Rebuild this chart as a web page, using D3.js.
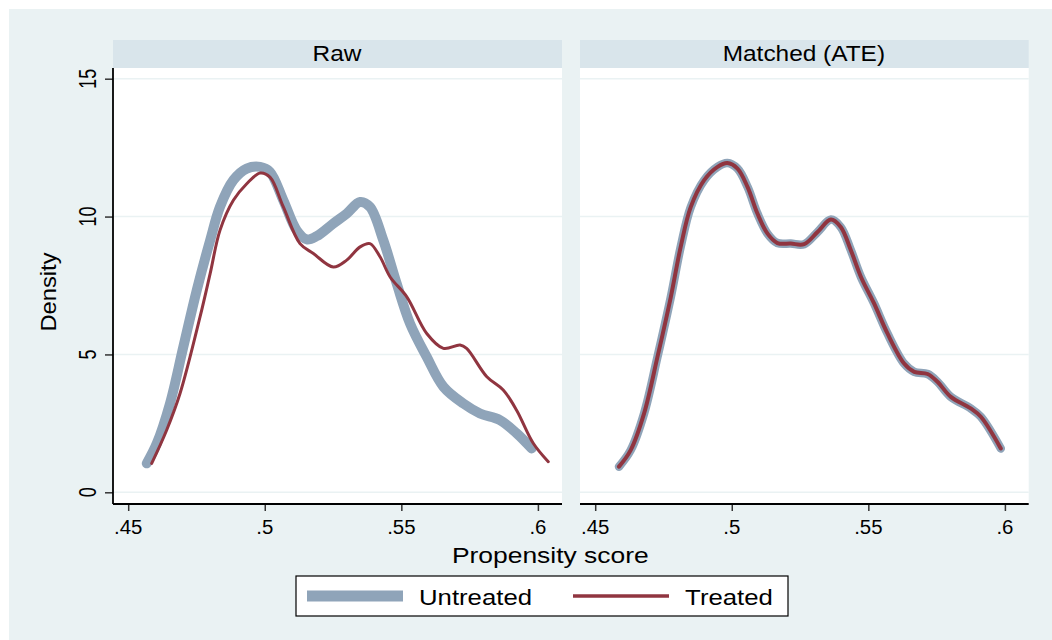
<!DOCTYPE html>
<html>
<head>
<meta charset="utf-8">
<script src="https://cdn.jsdelivr.net/npm/d3@7"></script>
<style>
  html, body { margin: 0; padding: 0; background: #fff; }
  svg { display: block; font-family: "Liberation Sans", Arial, sans-serif; }
</style>
</head>
<body>
<script>
// kernel density estimates: [propensity score, density]
const rawUntreated = [
  [0.4568, 1.05], [0.4605, 1.78], [0.4653, 3.22], [0.4702, 5.28], [0.4751, 7.33],
  [0.4800, 9.14], [0.4836, 10.35], [0.4885, 11.32], [0.4934, 11.74], [0.4983, 11.80],
  [0.5019, 11.62], [0.5068, 10.59], [0.5117, 9.50], [0.5154, 9.17], [0.5190, 9.29],
  [0.5251, 9.75], [0.5300, 10.11], [0.5349, 10.53], [0.5385, 10.35], [0.5434, 9.14],
  [0.5483, 7.57], [0.5532, 6.12], [0.5593, 4.91], [0.5654, 3.83], [0.5727, 3.22],
  [0.5788, 2.86], [0.5861, 2.62], [0.5922, 2.14], [0.5977, 1.59]
];
const rawTreated = [
  [0.4586, 1.05], [0.4641, 2.26], [0.4690, 3.59], [0.4763, 6.36], [0.4800, 7.93],
  [0.4836, 9.50], [0.4885, 10.59], [0.4934, 11.19], [0.4983, 11.58], [0.5019, 11.43],
  [0.5068, 10.35], [0.5129, 9.02], [0.5178, 8.66], [0.5251, 8.17], [0.5300, 8.42],
  [0.5349, 8.90], [0.5385, 9.02], [0.5422, 8.54], [0.5459, 7.81], [0.5520, 7.09],
  [0.5593, 5.76], [0.5654, 5.22], [0.5715, 5.34], [0.5739, 5.22], [0.5813, 4.19],
  [0.5873, 3.71], [0.5922, 2.98], [0.5983, 1.78], [0.6038, 1.11]
];
const matchedUntreated = [
  [0.4587, 0.93], [0.4630, 1.53], [0.4679, 2.86], [0.4728, 4.91], [0.4777, 7.09],
  [0.4813, 8.90], [0.4850, 10.35], [0.4899, 11.32], [0.4948, 11.80], [0.4984, 11.94],
  [0.5021, 11.74], [0.5058, 11.07], [0.5094, 10.11], [0.5131, 9.38], [0.5167, 9.04],
  [0.5216, 9.02], [0.5265, 9.00], [0.5314, 9.44], [0.5363, 9.89], [0.5399, 9.62],
  [0.5436, 8.78], [0.5473, 7.81], [0.5521, 6.85], [0.5570, 5.76], [0.5631, 4.67],
  [0.5668, 4.37], [0.5717, 4.29], [0.5753, 4.01], [0.5802, 3.46], [0.5875, 3.04],
  [0.5912, 2.74], [0.5985, 1.59]
];
// after matching the treated curve sits right on top of the untreated one
const matchedTreated = matchedUntreated.map(d => [d[0], d[1]]);

const panelTitles = ["Raw", "Matched (ATE)"];
const xTicks = [0.45, 0.5, 0.55, 0.6];
const yTicks = [0, 5, 10, 15];
const seriesNames = ["Untreated", "Treated"];

const W = 1052, H = 640;
const colUntreated = "#8fa4b9",
      colTreated = "#903540",
      colRegion = "#eaf2f3",
      colStrip = "#d9e5eb";

const svg = d3.select("body").append("svg")
  .attr("width", W).attr("height", H);

// graph region
svg.append("rect")
  .attr("x", 9).attr("y", 9).attr("width", W - 9).attr("height", H - 9)
  .attr("fill", colRegion);

// text helper; stata glyphs come out a bit wider than liberation sans,
// so scale in screen space (sx, sy) before any rotation
function label(g, str, x, y, size, sx, sy, rot) {
  return g.append("text")
    .attr("transform", `translate(${x},${y}) scale(${sx},${sy})` + (rot ? ` rotate(${rot})` : ""))
    .attr("text-anchor", "middle")
    .attr("font-size", size)
    .attr("fill", "#000")
    .text(str);
}

const fmtX = d => d3.format(".2~f")(d).replace(/^0/, "");

const plotTop = 68, plotBottom = 504;
const y = d3.scaleLinear().domain([0, 15]).range([492.3, 78.7]);

const panels = [
  {title: panelTitles[0], left: 113, right: 562, untreated: rawUntreated, treated: rawTreated,
   wU: 10, wT: 3},
  {title: panelTitles[1], left: 580, right: 1028.7, untreated: matchedUntreated, treated: matchedTreated,
   wU: 8.5, wT: 4}
];

panels.forEach(function(p, i) {
  var g = svg.append("g");

  // x scale: .45 -> .6 spans 409.7px in both panels
  var x0 = p.left + 15.2;
  var x = d3.scaleLinear().domain([0.45, 0.6]).range([x0, x0 + 409.7]);

  // header strip
  g.append("rect")
    .attr("x", p.left).attr("y", 40).attr("width", p.right - p.left).attr("height", 28)
    .attr("fill", colStrip);
  label(g, p.title, (p.left + p.right) / 2 - 0.5, 61, 22, 1.11, 1);

  // plot area
  g.append("rect")
    .attr("x", p.left).attr("y", plotTop).attr("width", p.right - p.left)
    .attr("height", plotBottom - plotTop)
    .attr("fill", "#fff");

  // gridlines
  g.selectAll(".grid").data(yTicks).join("line")
    .attr("x1", p.left).attr("x2", p.right)
    .attr("y1", d => y(d)).attr("y2", d => y(d))
    .attr("stroke", colRegion).attr("stroke-width", 1.5);

  // curves
  var line = d3.line()
    .x(d => x(d[0])).y(d => y(d[1]))
    .curve(d3.curveCatmullRom.alpha(0.5));

  g.append("path")
    .attr("d", line(p.untreated))
    .attr("fill", "none")
    .attr("stroke", colUntreated)
    .attr("stroke-width", p.wU)
    .attr("stroke-linecap", "round")
    .attr("stroke-linejoin", "round");

  g.append("path")
    .attr("d", line(p.treated))
    .attr("fill", "none")
    .attr("stroke", colTreated)
    .attr("stroke-width", p.wT)
    .attr("stroke-linecap", "round")
    .attr("stroke-linejoin", "round");

  // x axis
  var xAxis = d3.axisBottom(x).tickValues(xTicks).tickSize(7).tickFormat("");
  var ax = g.append("g").attr("transform", `translate(0,${plotBottom})`).call(xAxis);
  ax.select(".domain").remove();
  ax.selectAll(".tick line").attr("stroke", "#333").attr("stroke-width", 1.5);
  g.append("line")
    .attr("x1", p.left).attr("x2", p.right)
    .attr("y1", plotBottom).attr("y2", plotBottom)
    .attr("stroke", "#000").attr("stroke-width", 1.8);
  xTicks.forEach(function(t) {
    label(g, fmtX(t), x(t), 534, 20, 1.02, 1);
  });

  // y axis only on the first panel
  if (i === 0) {
    var yAxis = d3.axisLeft(y).tickValues(yTicks).tickSize(8).tickFormat("");
    var ay = g.append("g").attr("transform", `translate(${p.left},0)`).call(yAxis);
    ay.select(".domain").remove();
    ay.selectAll(".tick line").attr("stroke", "#333").attr("stroke-width", 1.5);
    g.append("line")
      .attr("x1", p.left).attr("x2", p.left)
      .attr("y1", plotTop).attr("y2", plotBottom)
      .attr("stroke", "#000").attr("stroke-width", 1.8);
    yTicks.forEach(function(t) {
      label(g, String(t), 96, y(t), 18, 1.3, 1, -90);
    });
  }
});

// axis titles
label(svg, "Propensity score", 550.3, 562.7, 21.5, 1.23, 1);
label(svg, "Density", 56, 292, 22, 1, 1.08, -90);

// legend
var lg = svg.append("g");
lg.append("rect")
  .attr("x", 296).attr("y", 576).attr("width", 492).attr("height", 40)
  .attr("fill", "#fff").attr("stroke", "#000").attr("stroke-width", 1.2);
lg.append("line")
  .attr("x1", 307).attr("x2", 403).attr("y1", 596).attr("y2", 596)
  .attr("stroke", colUntreated).attr("stroke-width", 11);
lg.append("line")
  .attr("x1", 573).attr("x2", 669).attr("y1", 596).attr("y2", 596)
  .attr("stroke", colTreated).attr("stroke-width", 3.3);
label(lg, seriesNames[0], 475.5, 605, 23, 1.12, 1);
label(lg, seriesNames[1], 729, 605, 23, 1.12, 1);
</script>
</body>
</html>
